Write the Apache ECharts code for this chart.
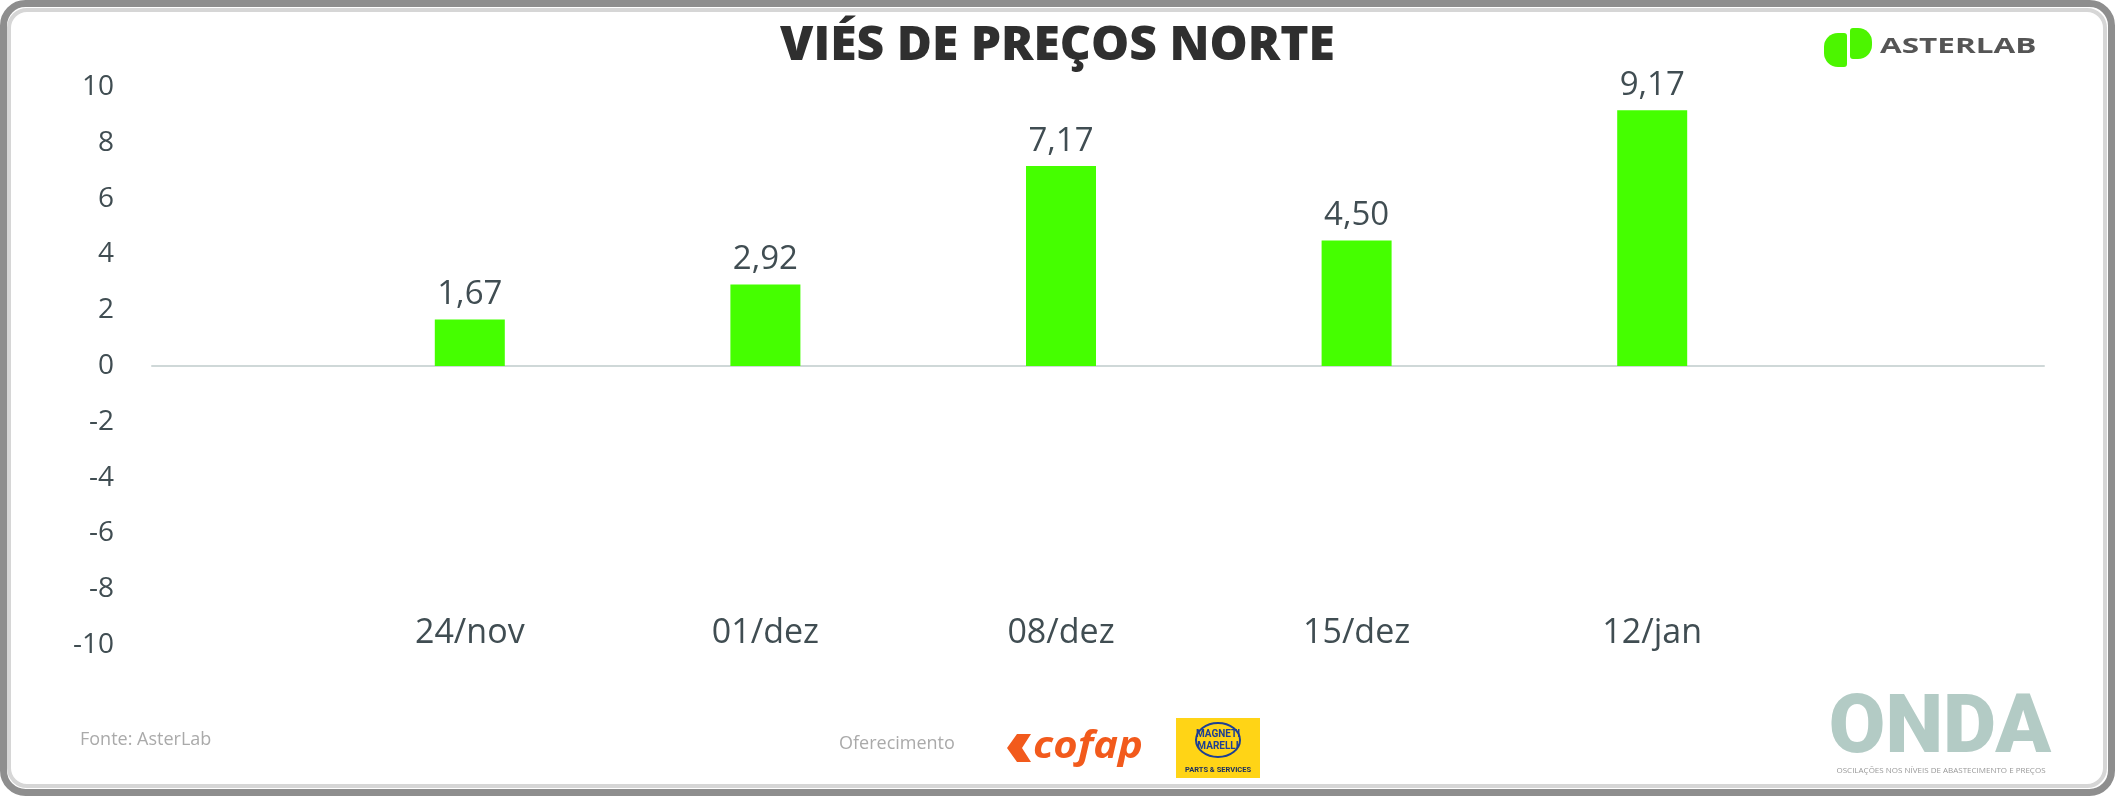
<!DOCTYPE html>
<html>
<head>
<meta charset="utf-8">
<script src="https://cdn.jsdelivr.net/npm/echarts@6/dist/echarts.min.js"></script>
<style>
  html, body { margin: 0; padding: 0; background: #fff; }
  #chart { width: 2115px; height: 796px; }
</style>
</head>
<body>
<div id="chart"></div>
<script>
// dados do gráfico
const categories = ["24/nov", "01/dez", "08/dez", "15/dez", "12/jan"];
const values = [1.67, 2.92, 7.17, 4.5, 9.17];
const yMin = -10;
const yMax = 10;
const yStep = 2;

const textColor = "#404d52";
const font = "Open Sans";

const chart = echarts.init(document.getElementById("chart"));

// números no formato brasileiro (vírgula)
const fmt = v => v.toFixed(2).replace(".", ",");

const option = {
  backgroundColor: "#fff",
  animation: false,
  title: {
    text: "VIÉS DE PREÇOS NORTE",
    left: "center",
    top: 17,
    textStyle: {
      fontFamily: font,
      fontWeight: 800,
      fontSize: 48,
      color: "#2f2f2f"
    }
  },
  grid: [
    // moldura do eixo (linha do zero + rótulos do eixo y)
    { left: 152, right: 71, top: 87, bottom: 151 },
    // área das barras
    { left: 322, right: 315, top: 87, bottom: 151 }
  ],
  xAxis: [
    {
      gridIndex: 0,
      type: "value",
      min: 0,
      max: 1,
      axisLine: { show: true, onZero: true, lineStyle: { color: "#cfd8d8", width: 2 } },
      axisTick: { show: false },
      axisLabel: { show: false },
      splitLine: { show: false }
    },
    {
      gridIndex: 1,
      type: "category",
      data: categories,
      axisLine: { show: false },
      axisTick: { show: false },
      axisLabel: {
        margin: -12,
        verticalAlign: "middle",
        fontFamily: font,
        fontSize: 34,
        color: textColor
      }
    }
  ],
  yAxis: [
    {
      gridIndex: 0,
      type: "value",
      min: yMin,
      max: yMax,
      interval: yStep,
      axisLine: { show: false },
      axisTick: { show: false },
      splitLine: { show: false },
      axisLabel: {
        margin: 38,
        fontFamily: font,
        fontSize: 28,
        color: textColor
      }
    },
    {
      gridIndex: 1,
      type: "value",
      min: yMin,
      max: yMax,
      interval: yStep,
      show: false,
      splitLine: { show: false }
    }
  ],
  series: [
    {
      type: "bar",
      xAxisIndex: 1,
      yAxisIndex: 1,
      data: values,
      barWidth: 70,
      itemStyle: { color: "#45ff00" },
      label: {
        show: true,
        position: "top",
        distance: 8,
        formatter: p => fmt(p.value),
        fontFamily: font,
        fontSize: 33,
        color: textColor
      }
    }
  ],
  graphic: [
    // moldura
    {
      type: "rect",
      shape: { x: 3.5, y: 3.5, width: 2108, height: 789, r: 22 },
      style: { fill: null, stroke: "#8e8e8e", lineWidth: 7 }
    },
    {
      type: "rect",
      shape: { x: 9, y: 10, width: 2096, height: 776, r: 18 },
      style: { fill: null, stroke: "#d6d6d6", lineWidth: 4 }
    },
    // logo AsterLab
    {
      type: "rect",
      shape: { x: 1824, y: 33, width: 23, height: 34, r: [14, 3, 3, 14] },
      style: { fill: "#4cf500" }
    },
    {
      type: "rect",
      shape: { x: 1850, y: 28, width: 22, height: 31, r: [3, 14, 14, 3] },
      style: { fill: "#4cf500" }
    },
    {
      type: "text",
      x: 1880,
      y: 47,
      scaleX: 1.5,
      style: {
        text: "ASTERLAB",
        fontFamily: font,
        fontWeight: "bold",
        fontSize: 21,
        fill: "#555",
        verticalAlign: "middle"
      }
    },
    // rodapé
    {
      type: "text",
      x: 80,
      y: 740,
      style: { text: "Fonte: AsterLab", fontFamily: font, fontSize: 18, fill: "#aaa", verticalAlign: "middle" }
    },
    {
      type: "text",
      x: 839,
      y: 744,
      style: { text: "Oferecimento", fontFamily: font, fontSize: 18, fill: "#aaa", verticalAlign: "middle" }
    },
    // cofap
    {
      type: "polygon",
      shape: { points: [[1031, 734], [1017, 734], [1007, 748], [1017, 762], [1031, 762], [1022, 748]] },
      style: { fill: "#f25a1c" }
    },
    {
      type: "text",
      x: 1033,
      y: 747,
      scaleX: 1.1,
      style: {
        text: "cofap",
        fontFamily: font,
        fontStyle: "italic",
        fontWeight: "bold",
        fontSize: 38,
        fill: "#f25a1c",
        verticalAlign: "middle"
      }
    },
    // Magneti Marelli
    {
      type: "rect",
      shape: { x: 1176, y: 718, width: 84, height: 60 },
      style: { fill: "#ffd416" }
    },
    {
      type: "ellipse",
      shape: { cx: 1218, cy: 740, rx: 22, ry: 17 },
      style: { fill: null, stroke: "#1d3f94", lineWidth: 2 }
    },
    {
      type: "text",
      x: 1218,
      y: 734,
      style: { text: "MAGNETI", fontFamily: "Roboto", fontWeight: "bold", fontSize: 10, fill: "#1d3f94", align: "center", verticalAlign: "middle" }
    },
    {
      type: "text",
      x: 1218,
      y: 746,
      style: { text: "MARELLI", fontFamily: "Roboto", fontWeight: "bold", fontSize: 10, fill: "#1d3f94", align: "center", verticalAlign: "middle" }
    },
    {
      type: "text",
      x: 1218,
      y: 770,
      style: { text: "PARTS & SERVICES", fontFamily: "Roboto", fontWeight: "bold", fontSize: 7.5, fill: "#1d3060", align: "center", verticalAlign: "middle" }
    },
    // ONDA
    {
      type: "text",
      x: 1940,
      y: 731,
      style: {
        text: "ONDA",
        fontFamily: "Roboto",
        fontWeight: 900,
        fontSize: 82,
        fill: "#b3cbc5",
        align: "center",
        verticalAlign: "middle"
      }
    },
    {
      type: "text",
      x: 1941,
      y: 771,
      style: {
        text: "OSCILAÇÕES NOS NÍVEIS DE ABASTECIMENTO E PREÇOS",
        fontFamily: font,
        fontSize: 8,
        fill: "#999",
        align: "center",
        verticalAlign: "middle"
      }
    }
  ]
};

chart.setOption(option);
</script>
</body>
</html>
